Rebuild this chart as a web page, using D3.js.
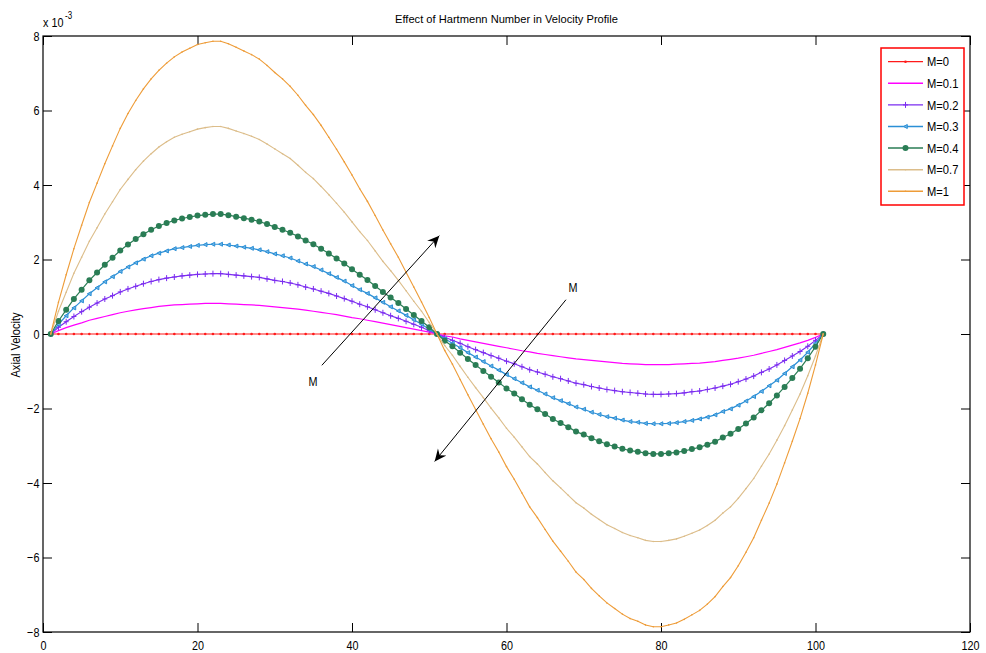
<!DOCTYPE html>
<html>
<head>
<meta charset="utf-8">
<script src="https://cdn.jsdelivr.net/npm/d3@7"></script>
<style>
  body { margin: 0; background: #fff; }
  text { font-family: "Liberation Sans", Arial, sans-serif; fill: #000; }
</style>
</head>
<body>
<div id="chart"></div>
<script>
// grid points along the channel (1..101)
const xIndex = d3.range(1, 102);

// axial velocity, in units of 1e-3
const m0 = [
  0,0,0,0,0,0,0,0,0,0, 0,0,0,0,0,0,0,0,0,0, 0,0,0,0,0,0,0,0,0,0,
  0,0,0,0,0,0,0,0,0,0, 0,0,0,0,0,0,0,0,0,0, 0,
  0,0,0,0,0,0,0,0,0,0, 0,0,0,0,0,0,0,0,0,0, 0,0,0,0,0,0,0,0,0,0,
  0,0,0,0,0,0,0,0,0,0, 0,0,0,0,0,0,0,0,0,0
];
const m01 = [
  0,0.09,0.17,0.24,0.30,0.37,0.42,0.47,0.52,0.57,
  0.61,0.65,0.68,0.71,0.74,0.76,0.78,0.79,0.80,0.81,
  0.82,0.82,0.82,0.81,0.80,0.79,0.78,0.77,0.75,0.73,
  0.71,0.69,0.67,0.64,0.61,0.58,0.55,0.52,0.48,0.44,
  0.41,0.37,0.33,0.29,0.25,0.21,0.17,0.13,0.09,0.05,
  0,
  -0.05,-0.08,-0.13,-0.17,-0.21,-0.25,-0.29,-0.33,-0.37,-0.41,
  -0.45,-0.48,-0.52,-0.55,-0.58,-0.61,-0.64,-0.67,-0.69,-0.71,
  -0.73,-0.75,-0.77,-0.79,-0.80,-0.81,-0.82,-0.82,-0.82,-0.82,
  -0.81,-0.80,-0.79,-0.78,-0.76,-0.74,-0.71,-0.68,-0.65,-0.61,
  -0.57,-0.52,-0.47,-0.42,-0.36,-0.30,-0.24,-0.17,-0.09,0
];
const m02 = [
  0,0.18,0.33,0.47,0.60,0.72,0.83,0.94,1.03,1.13,
  1.21,1.28,1.35,1.41,1.46,1.50,1.53,1.56,1.58,1.60,
  1.61,1.62,1.62,1.60,1.58,1.56,1.54,1.52,1.48,1.44,
  1.41,1.37,1.32,1.26,1.21,1.15,1.09,1.02,0.95,0.88,
  0.80,0.73,0.65,0.57,0.49,0.42,0.34,0.26,0.18,0.09,
  0,
  -0.09,-0.17,-0.25,-0.34,-0.42,-0.50,-0.58,-0.65,-0.73,-0.80,
  -0.88,-0.96,-1.02,-1.08,-1.15,-1.20,-1.26,-1.32,-1.36,-1.41,
  -1.45,-1.49,-1.52,-1.55,-1.57,-1.59,-1.61,-1.62,-1.62,-1.61,
  -1.60,-1.58,-1.55,-1.53,-1.49,-1.45,-1.40,-1.35,-1.28,-1.21,
  -1.13,-1.03,-0.94,-0.83,-0.71,-0.59,-0.47,-0.33,-0.17,0
];
const m03 = [
  0,0.26,0.49,0.70,0.89,1.08,1.24,1.40,1.54,1.68,
  1.80,1.91,2.01,2.10,2.17,2.23,2.29,2.32,2.35,2.38,
  2.40,2.41,2.41,2.39,2.36,2.33,2.30,2.26,2.21,2.15,
  2.10,2.04,1.96,1.88,1.81,1.72,1.62,1.52,1.42,1.30,
  1.19,1.09,0.97,0.85,0.73,0.62,0.50,0.38,0.26,0.13,
  0,
  -0.13,-0.25,-0.37,-0.50,-0.62,-0.74,-0.86,-0.97,-1.09,-1.20,
  -1.31,-1.42,-1.51,-1.61,-1.71,-1.79,-1.87,-1.96,-2.02,-2.10,
  -2.16,-2.22,-2.26,-2.31,-2.35,-2.37,-2.40,-2.41,-2.41,-2.40,
  -2.38,-2.35,-2.32,-2.28,-2.23,-2.17,-2.08,-2.01,-1.91,-1.80,
  -1.68,-1.54,-1.39,-1.24,-1.06,-0.88,-0.70,-0.49,-0.25,0
];
const m04 = [
  0,0.35,0.65,0.94,1.19,1.44,1.65,1.86,2.05,2.24,
  2.40,2.55,2.68,2.80,2.90,2.98,3.05,3.10,3.14,3.18,
  3.20,3.22,3.22,3.19,3.15,3.11,3.07,3.02,2.95,2.87,
  2.80,2.72,2.62,2.51,2.41,2.29,2.16,2.03,1.89,1.74,
  1.59,1.45,1.29,1.13,0.98,0.83,0.67,0.51,0.35,0.18,
  0,
  -0.18,-0.33,-0.50,-0.67,-0.83,-0.99,-1.15,-1.30,-1.46,-1.60,
  -1.75,-1.90,-2.02,-2.15,-2.28,-2.39,-2.50,-2.62,-2.70,-2.80,
  -2.88,-2.96,-3.02,-3.08,-3.13,-3.16,-3.20,-3.22,-3.22,-3.20,
  -3.18,-3.14,-3.09,-3.04,-2.97,-2.89,-2.78,-2.68,-2.55,-2.40,
  -2.24,-2.05,-1.86,-1.65,-1.42,-1.18,-0.93,-0.65,-0.34,0
];
const m07 = [
  0,0.61,1.12,1.63,2.06,2.49,2.85,3.22,3.55,3.88,
  4.15,4.41,4.64,4.84,5.02,5.16,5.28,5.36,5.43,5.50,
  5.54,5.57,5.57,5.52,5.45,5.38,5.31,5.22,5.10,4.97,
  4.84,4.71,4.53,4.34,4.17,3.96,3.74,3.51,3.27,3.01,
  2.75,2.51,2.23,1.95,1.70,1.44,1.16,0.88,0.61,0.31,
  0,
  -0.31,-0.57,-0.87,-1.16,-1.44,-1.71,-1.99,-2.25,-2.53,-2.77,
  -3.03,-3.29,-3.49,-3.72,-3.94,-4.13,-4.33,-4.53,-4.67,-4.84,
  -4.98,-5.12,-5.22,-5.33,-5.41,-5.47,-5.54,-5.57,-5.57,-5.54,
  -5.50,-5.43,-5.35,-5.26,-5.14,-5.00,-4.81,-4.64,-4.41,-4.15,
  -3.88,-3.55,-3.22,-2.85,-2.46,-2.04,-1.61,-1.12,-0.59,0
];
const m1 = [
  0,0.85,1.59,2.29,2.92,3.53,4.05,4.57,5.05,5.52,
  5.92,6.27,6.58,6.85,7.08,7.27,7.44,7.57,7.67,7.77,
  7.82,7.86,7.86,7.79,7.70,7.60,7.50,7.38,7.21,7.02,
  6.85,6.65,6.41,6.14,5.89,5.60,5.28,4.96,4.62,4.27,
  3.90,3.56,3.18,2.79,2.42,2.06,1.66,1.26,0.86,0.44,
  0,
  -0.44,-0.81,-1.22,-1.63,-2.03,-2.42,-2.81,-3.17,-3.56,-3.90,
  -4.27,-4.64,-4.93,-5.25,-5.56,-5.83,-6.10,-6.39,-6.59,-6.83,
  -7.03,-7.22,-7.37,-7.52,-7.64,-7.71,-7.81,-7.86,-7.86,-7.81,
  -7.76,-7.66,-7.54,-7.42,-7.25,-7.05,-6.78,-6.54,-6.22,-5.86,
  -5.47,-5.00,-4.54,-4.03,-3.46,-2.88,-2.27,-1.59,-0.83,0
];

const labels = ["M=0", "M=0.1", "M=0.2", "M=0.3", "M=0.4", "M=0.7", "M=1"];
const xTicks = [0, 20, 40, 60, 80, 100, 120];
const yTicks = [-8, -6, -4, -2, 0, 2, 4, 6, 8];

// arrow annotations, in data units
const arrows = [
  {from: [36.1, -0.84], to: [51.3, 2.64], text: "M", at: [34.95, -1.27]},
  {from: [67.7, 0.92], to: [50.7, -3.42], text: "M", at: [68.6, 1.27]}
];

// style per series
const series = [
  {values: m0,  color: "#ff1a1a", marker: "dot",    width: 1},
  {values: m01, color: "#ff00ff", marker: "none",   width: 1.2},
  {values: m02, color: "#7b2cf0", marker: "plus",   width: 1.1},
  {values: m03, color: "#2b8fd6", marker: "tri",    width: 1.2},
  {values: m04, color: "#2a7d55", marker: "circle", width: 1.2},
  {values: m07, color: "#dcbd8a", marker: "small",  width: 1.1},
  {values: m1,  color: "#ee9c38", marker: "small",  width: 1.1}
];

const squeeze = 0.8; // narrow text like the original

const margin = {top: 36, right: 16, bottom: 21, left: 43},
      width = 986 - margin.left - margin.right,
      height = 653 - margin.top - margin.bottom;

const root = d3.select("#chart")
  .append("svg")
    .attr("width", 986)
    .attr("height", 653);

const svg = root.append("g")
    .attr("transform", `translate(${margin.left}, ${margin.top})`);

const x = d3.scaleLinear().domain([0, 120]).range([0, width]);
const y = d3.scaleLinear().domain([-8, 8]).range([height, 0]);

// axes, ticks pointing inward
const xAxis = svg.append("g")
  .attr("transform", `translate(0, ${height})`)
  .call(d3.axisBottom(x).tickValues(xTicks).tickSize(-9).tickSizeOuter(0).tickPadding(8));
const xTop = svg.append("g")
  .call(d3.axisTop(x).tickValues(xTicks).tickSize(-9).tickSizeOuter(0).tickFormat(""));
const yAxis = svg.append("g")
  .call(d3.axisLeft(y).tickValues(yTicks).tickSize(-9).tickSizeOuter(0).tickPadding(4.5));
const yRight = svg.append("g")
  .attr("transform", `translate(${width}, 0)`)
  .call(d3.axisRight(y).tickValues(yTicks).tickSize(-9).tickSizeOuter(0).tickFormat(""));

[xAxis, xTop, yAxis, yRight].forEach(a => {
  a.select(".domain").remove();
  a.selectAll(".tick line").attr("stroke", "#000");
  a.selectAll(".tick text")
    .attr("font-family", "Liberation Sans, Arial, sans-serif")
    .attr("font-size", 13.5)
    .attr("fill", "#000")
    .attr("transform", `scale(${squeeze},1)`);
});

svg.append("rect")
  .attr("width", width)
  .attr("height", height)
  .attr("fill", "none")
  .attr("stroke", "#000")
  .attr("stroke-width", 1.2);

// lines
const line = d3.line()
  .x((d, i) => x(xIndex[i]))
  .y(d => y(d));

function drawMarker(g, kind, color, px, py) {
  if (kind === "dot") {
    g.append("circle").attr("cx", px).attr("cy", py).attr("r", 1.3).attr("fill", color);
  } else if (kind === "small") {
    g.append("circle").attr("cx", px).attr("cy", py).attr("r", 0.8).attr("fill", color);
  } else if (kind === "circle") {
    g.append("circle").attr("cx", px).attr("cy", py).attr("r", 3).attr("fill", color);
  } else if (kind === "plus") {
    g.append("path")
      .attr("d", `M${px - 2.5},${py}H${px + 2.5}M${px},${py - 3}V${py + 3}`)
      .attr("stroke", color).attr("stroke-width", 1).attr("fill", "none");
  } else if (kind === "tri") {
    g.append("path")
      .attr("d", `M${px - 2},${py}L${px + 1.8},${py - 2}L${px + 1.8},${py + 2}Z`)
      .attr("stroke", color).attr("stroke-width", 1).attr("fill", "#6fb6e6");
  }
}

series.forEach(s => {
  const g = svg.append("g");
  g.append("path")
    .datum(s.values)
    .attr("fill", "none")
    .attr("stroke", s.color)
    .attr("stroke-width", s.width)
    .attr("d", line);
  if (s.marker !== "none") {
    s.values.forEach((v, i) => drawMarker(g, s.marker, s.color, x(xIndex[i]), y(v)));
  }
});

// arrows
const defs = root.append("defs");
defs.append("marker")
  .attr("id", "head")
  .attr("viewBox", "-12 -6 13 12")
  .attr("refX", 0).attr("refY", 0)
  .attr("markerWidth", 13).attr("markerHeight", 12)
  .attr("markerUnits", "userSpaceOnUse")
  .attr("orient", "auto")
  .append("path")
    .attr("d", "M0,0L-12,-5.5L-8,0L-12,5.5Z")
    .attr("fill", "#000");

arrows.forEach(a => {
  svg.append("line")
    .attr("x1", x(a.from[0])).attr("y1", y(a.from[1]))
    .attr("x2", x(a.to[0])).attr("y2", y(a.to[1]))
    .attr("stroke", "#000")
    .attr("stroke-width", 1)
    .attr("marker-end", "url(#head)");
  svg.append("text")
    .attr("transform", `translate(${x(a.at[0])},${y(a.at[1])}) scale(${squeeze},1)`)
    .attr("text-anchor", "middle")
    .attr("dy", "0.36em")
    .attr("font-size", 13.5)
    .text(a.text);
});

// legend
const legend = svg.append("g").attr("transform", `translate(${881 - margin.left}, ${48 - margin.top})`);
legend.append("rect")
  .attr("width", 83)
  .attr("height", 157)
  .attr("fill", "#fff")
  .attr("stroke", "#ff0000")
  .attr("stroke-width", 1.5);
labels.forEach((lab, i) => {
  const ly = 13.7 + i * 21.6;
  const s = series[i];
  legend.append("line")
    .attr("x1", 7).attr("x2", 42)
    .attr("y1", ly).attr("y2", ly)
    .attr("stroke", s.color)
    .attr("stroke-width", s.width + 0.3);
  if (s.marker !== "none") drawMarker(legend, s.marker, s.color, 24.5, ly);
  legend.append("text")
    .attr("transform", `translate(46,${ly}) scale(0.86,1)`)
    .attr("dy", "0.36em")
    .attr("font-size", 13)
    .text(lab);
});

// title, axis label, exponent
root.append("text")
  .attr("x", margin.left + width / 2)
  .attr("y", 23)
  .attr("text-anchor", "middle")
  .attr("font-size", 11.5)
  .attr("textLength", 223)
  .attr("lengthAdjust", "spacingAndGlyphs")
  .text("Effect of Hartmenn Number in Velocity Profile");

root.append("text")
  .attr("transform", `translate(20,345) rotate(-90) scale(0.85,1)`)
  .attr("text-anchor", "middle")
  .attr("font-size", 13)
  .text("Axial Velocity");

root.append("text")
  .attr("transform", `translate(43,27) scale(${squeeze},1)`)
  .attr("font-size", 13.5)
  .text("x 10");
root.append("text")
  .attr("transform", `translate(65,19) scale(${squeeze},1)`)
  .attr("font-size", 10)
  .text("-3");
</script>
</body>
</html>
